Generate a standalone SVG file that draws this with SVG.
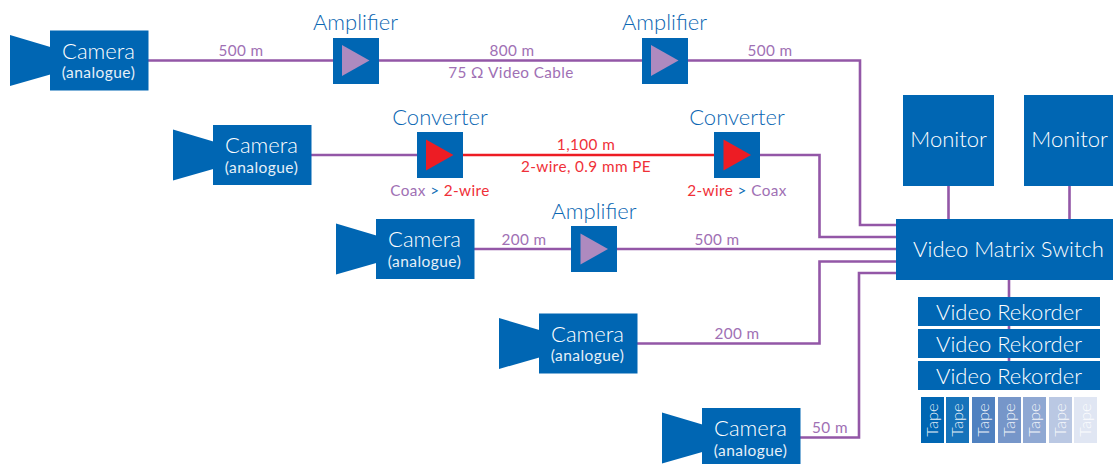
<svg xmlns="http://www.w3.org/2000/svg" width="1113" height="464" viewBox="0 0 1113 464">
<style>
text{font-family:"Lato","Open Sans","Liberation Sans",sans-serif;text-anchor:middle;font-weight:300}
.b{fill:#0066b3}
.t1{font-size:22px;fill:#fff}
.t2{font-size:15.5px;letter-spacing:.45px;font-weight:400;fill:#e6f0f8}
.h{font-size:22px;fill:#0a66b2}
.l{font-size:15.300px;letter-spacing:.4px;font-weight:400;fill:#a070b4}
.r{font-size:15.300px;letter-spacing:.4px;font-weight:400;fill:#ef3038}
.c{fill:none;stroke:#9357a7;stroke-width:2.6}
.cr{fill:none;stroke:#ed1c24;stroke-width:2.6}
.tape{font-size:16.5px;fill:#fff;fill-opacity:.9}
.amp{fill:#ae8abf}
.conv{fill:#ed1c24}
</style>
<defs>
<g id="cam">
<polygon class="b" points="10,35 52,47.500 52,74 10,86"/>
<rect class="b" x="50" y="30.500" width="98.500" height="60"/>
<text class="t1" x="98.500" y="58.500">Camera</text>
<text class="t2" x="98.500" y="78">(analogue)</text>
</g>
</defs>
<g id="connectors">
<path class="c" d="M148 60.500H860V225H897"/>
<path class="c" d="M311 155H430M745 155H819.500V237H897"/>
<path class="cr" d="M450 155H730"/>
<path class="c" d="M474 249H897"/>
<path class="c" d="M637 343.500H819.500V261.500H897"/>
<path class="c" d="M800 437.500H859V273H897"/>
<path class="c" d="M948.500 186V220M1069.500 186V220M1009 280V362"/>
</g>
<g id="camera1"><use href="#cam"/></g>
<g id="camera2"><use href="#cam" x="163" y="94.500"/></g>
<g id="camera3"><use href="#cam" x="326" y="188.500"/></g>
<g id="camera4"><use href="#cam" x="489" y="283"/></g>
<g id="camera5"><use href="#cam" x="652" y="377.500"/></g>
<g id="amplifier1"><text class="h" x="355.500" y="30">Amplifier</text><rect class="b" x="333" y="38" width="46" height="46"/><polygon class="amp" points="342,45 369.500,60.500 342,76"/></g>
<g id="amplifier2"><text class="h" x="664.500" y="30">Amplifier</text><rect class="b" x="642" y="38" width="46" height="46"/><polygon class="amp" points="651,45 678.500,60.500 651,76"/></g>
<g id="amplifier3"><text class="h" x="594" y="219">Amplifier</text><rect class="b" x="571" y="226" width="46" height="46"/><polygon class="amp" points="580.500,233.500 608,249 580.500,264.500"/></g>
<g id="converter1"><text class="h" x="440" y="125">Converter</text><rect class="b" x="417" y="132" width="46" height="46"/><polygon class="conv" points="426,139.500 453.500,155 426,170.500"/>
<text class="l" x="440" y="196"><tspan>Coax </tspan><tspan fill="#0f6cb6">&gt;</tspan><tspan class="r"> 2-wire</tspan></text></g>
<g id="converter2"><text class="h" x="737" y="125">Converter</text><rect class="b" x="714" y="132" width="46" height="46"/><polygon class="conv" points="723.500,139.500 751,155 723.500,170.500"/>
<text class="l" x="737" y="196"><tspan class="r">2-wire </tspan><tspan fill="#0f6cb6">&gt;</tspan><tspan> Coax</tspan></text></g>
<g id="monitor1"><rect class="b" x="903" y="95" width="91" height="91"/><text class="t1" x="948.500" y="147">Monitor</text></g>
<g id="monitor2"><rect class="b" x="1024" y="95" width="91" height="91"/><text class="t1" x="1069.500" y="147">Monitor</text></g>
<g id="switch"><rect class="b" x="896" y="219" width="217" height="61"/><text class="t1" x="1008.500" y="256.500">Video Matrix Switch</text></g>
<g id="recorder1"><rect class="b" x="918" y="297" width="182" height="29"/><text class="t1" x="1009" y="319.500">Video Rekorder</text></g>
<g id="recorder2"><rect class="b" x="918" y="329" width="182" height="29"/><text class="t1" x="1009" y="351.500">Video Rekorder</text></g>
<g id="recorder3"><rect class="b" x="918" y="361" width="182" height="29"/><text class="t1" x="1009" y="383.500">Video Rekorder</text></g>
<g id="tapes">
<rect x="921" y="397" width="23" height="46" fill="#0066b3"/><text class="tape" transform="translate(938,420) rotate(-90)">Tape</text>
<rect x="946" y="397" width="23" height="46" fill="#1673ba"/><text class="tape" transform="translate(963,420) rotate(-90)">Tape</text>
<rect x="972" y="397" width="23" height="46" fill="#4f81c0"/><text class="tape" transform="translate(989,420) rotate(-90)">Tape</text>
<rect x="998" y="397" width="23" height="46" fill="#7696c9"/><text class="tape" transform="translate(1015,420) rotate(-90)">Tape</text>
<rect x="1023" y="397" width="23" height="46" fill="#8fa8d3"/><text class="tape" transform="translate(1040,420) rotate(-90)">Tape</text>
<rect x="1049" y="397" width="23" height="46" fill="#bac8e3"/><text class="tape" transform="translate(1066,420) rotate(-90)">Tape</text>
<rect x="1074" y="397" width="23" height="46" fill="#e0e6f3"/><text class="tape" transform="translate(1091,420) rotate(-90)">Tape</text>
</g>
<g id="labels">
<text class="l" x="241" y="56">500 m</text>
<text class="l" x="512" y="56">800 m</text>
<text class="l" x="511" y="78">75 Ω Video Cable</text>
<text class="l" x="770" y="56">500 m</text>
<text class="r" x="586" y="150">1,100 m</text>
<text class="r" x="586" y="172">2-wire, 0.9 mm PE</text>
<text class="l" x="524" y="245">200 m</text>
<text class="l" x="717" y="245">500 m</text>
<text class="l" x="737" y="339">200 m</text>
<text class="l" x="830" y="433">50 m</text>
</g>
</svg>
